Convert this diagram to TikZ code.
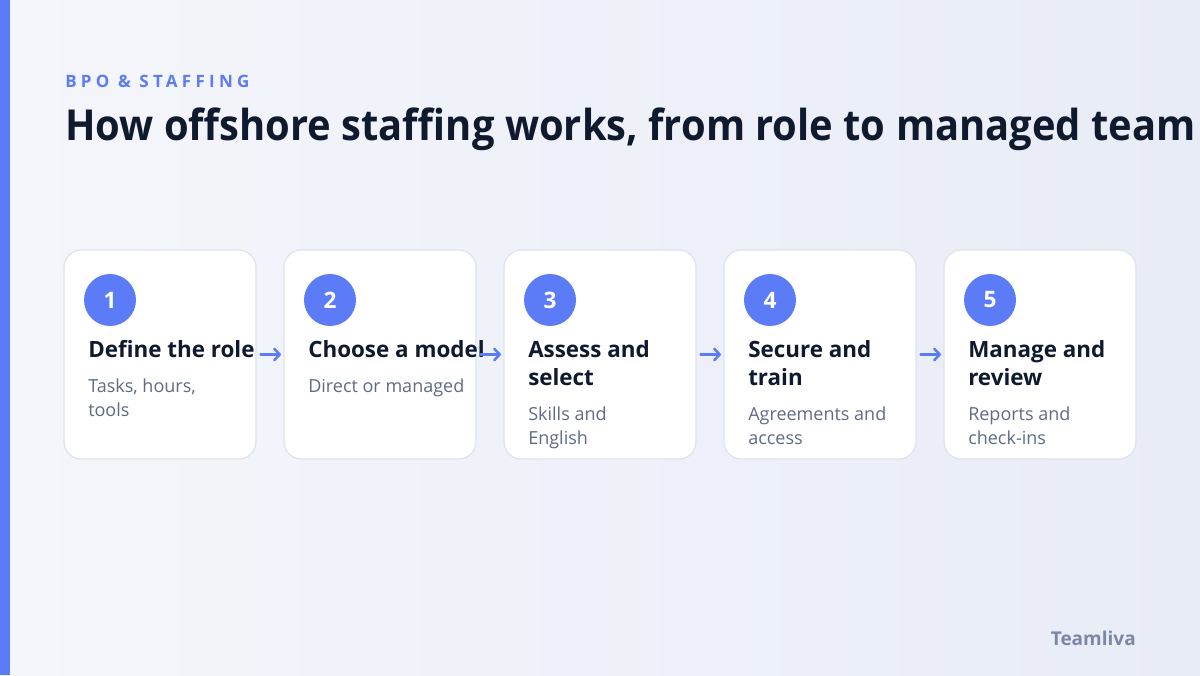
\documentclass[tikz,border=0pt]{standalone}
\usepackage{fontspec}
\setmainfont{Open Sans}
\usetikzlibrary{arrows.meta, positioning}
\definecolor{bgA}{HTML}{F4F6FB}
\definecolor{bgB}{HTML}{E8ECF6}
\definecolor{accent}{HTML}{5B7CF6}
\definecolor{ink}{HTML}{0F1A2E}
\definecolor{muted}{HTML}{5F6B85}
\definecolor{rim}{HTML}{DDE3EE}
\definecolor{brand}{HTML}{7A88A6}
\tikzstyle{card}=[draw=rim,line width=0.9pt,fill=white,rounded corners=13pt,minimum width=144pt,minimum height=156.75pt,inner sep=0pt]
\tikzstyle{badge}=[circle,fill=accent,text=white,minimum size=39pt,inner sep=0pt,font=\bfseries\fontsize{17pt}{18pt}\selectfont]
\tikzstyle{head}=[anchor=base west,inner sep=0pt,align=left,text=ink,font=\bfseries\fontsize{16.8pt}{21pt}\selectfont]
\tikzstyle{sub}=[anchor=base west,inner sep=0pt,align=left,text=muted,font=\fontsize{13.5pt}{18pt}\selectfont]
\tikzstyle{flow}=[accent,line width=1.9pt,line cap=round,-{Straight Barb[length=4pt,width=8.5pt,line cap=round]},shorten <=3pt,shorten >=1.5pt]

\begin{document}
\begin{tikzpicture}[x=0.75pt,y=-0.75pt]
    \useasboundingbox (0,0) rectangle (1200,675);
    \shade[left color=bgA,right color=bgB] (0,0) rectangle (1200,675);
    \fill[accent] (0,0) rectangle (10,675);
    \node[anchor=base west,inner sep=0pt,text=accent,font=\bfseries\addfontfeatures{LetterSpace=25}\fontsize{12.75pt}{15pt}\selectfont] (kicker) at (65,87) {BPO \& STAFFING};
    \node[anchor=base west,inner sep=0pt,text=ink,font=\bfseries\addfontfeatures{FakeStretch=0.935}\fontsize{32pt}{38pt}\selectfont] (title) at (65,140) {How offshore staffing works, from role to managed team};
    % last baselines: heading, then text below
    \foreach \i/\hd/\hy/\sb/\sy in {1/{Define the role}/357/{Tasks, hours,\\tools}/416,
                                   2/{Choose a model}/357/{Direct or managed}/392,
                                   3/{Assess and\\select}/385/{Skills and\\English}/444,
                                   4/{Secure and\\train}/385/{Agreements and\\access}/444,
                                   5/{Manage and\\review}/385/{Reports and\\check-ins}/444} {
        \node[card] (card\i) at ({160+220*(\i-1)},354.5) {};
        \node[badge] (num\i) at ({110+220*(\i-1)},300) {\i};
        \node[head] (head\i) at ({88+220*(\i-1)},\hy) {\hd};
        \node[sub] (sub\i) at ({88+220*(\i-1)},\sy) {\sb};
    }
    \foreach \i/\j in {1/2, 2/3, 3/4, 4/5}
        \draw[flow] (card\i.east) -- (card\j.west);
    \node[anchor=base east,inner sep=0pt,text=brand,font=\bfseries\fontsize{14.25pt}{16pt}\selectfont] (brand) at (1136,645) {Teamliva};
\end{tikzpicture}
\end{document}
